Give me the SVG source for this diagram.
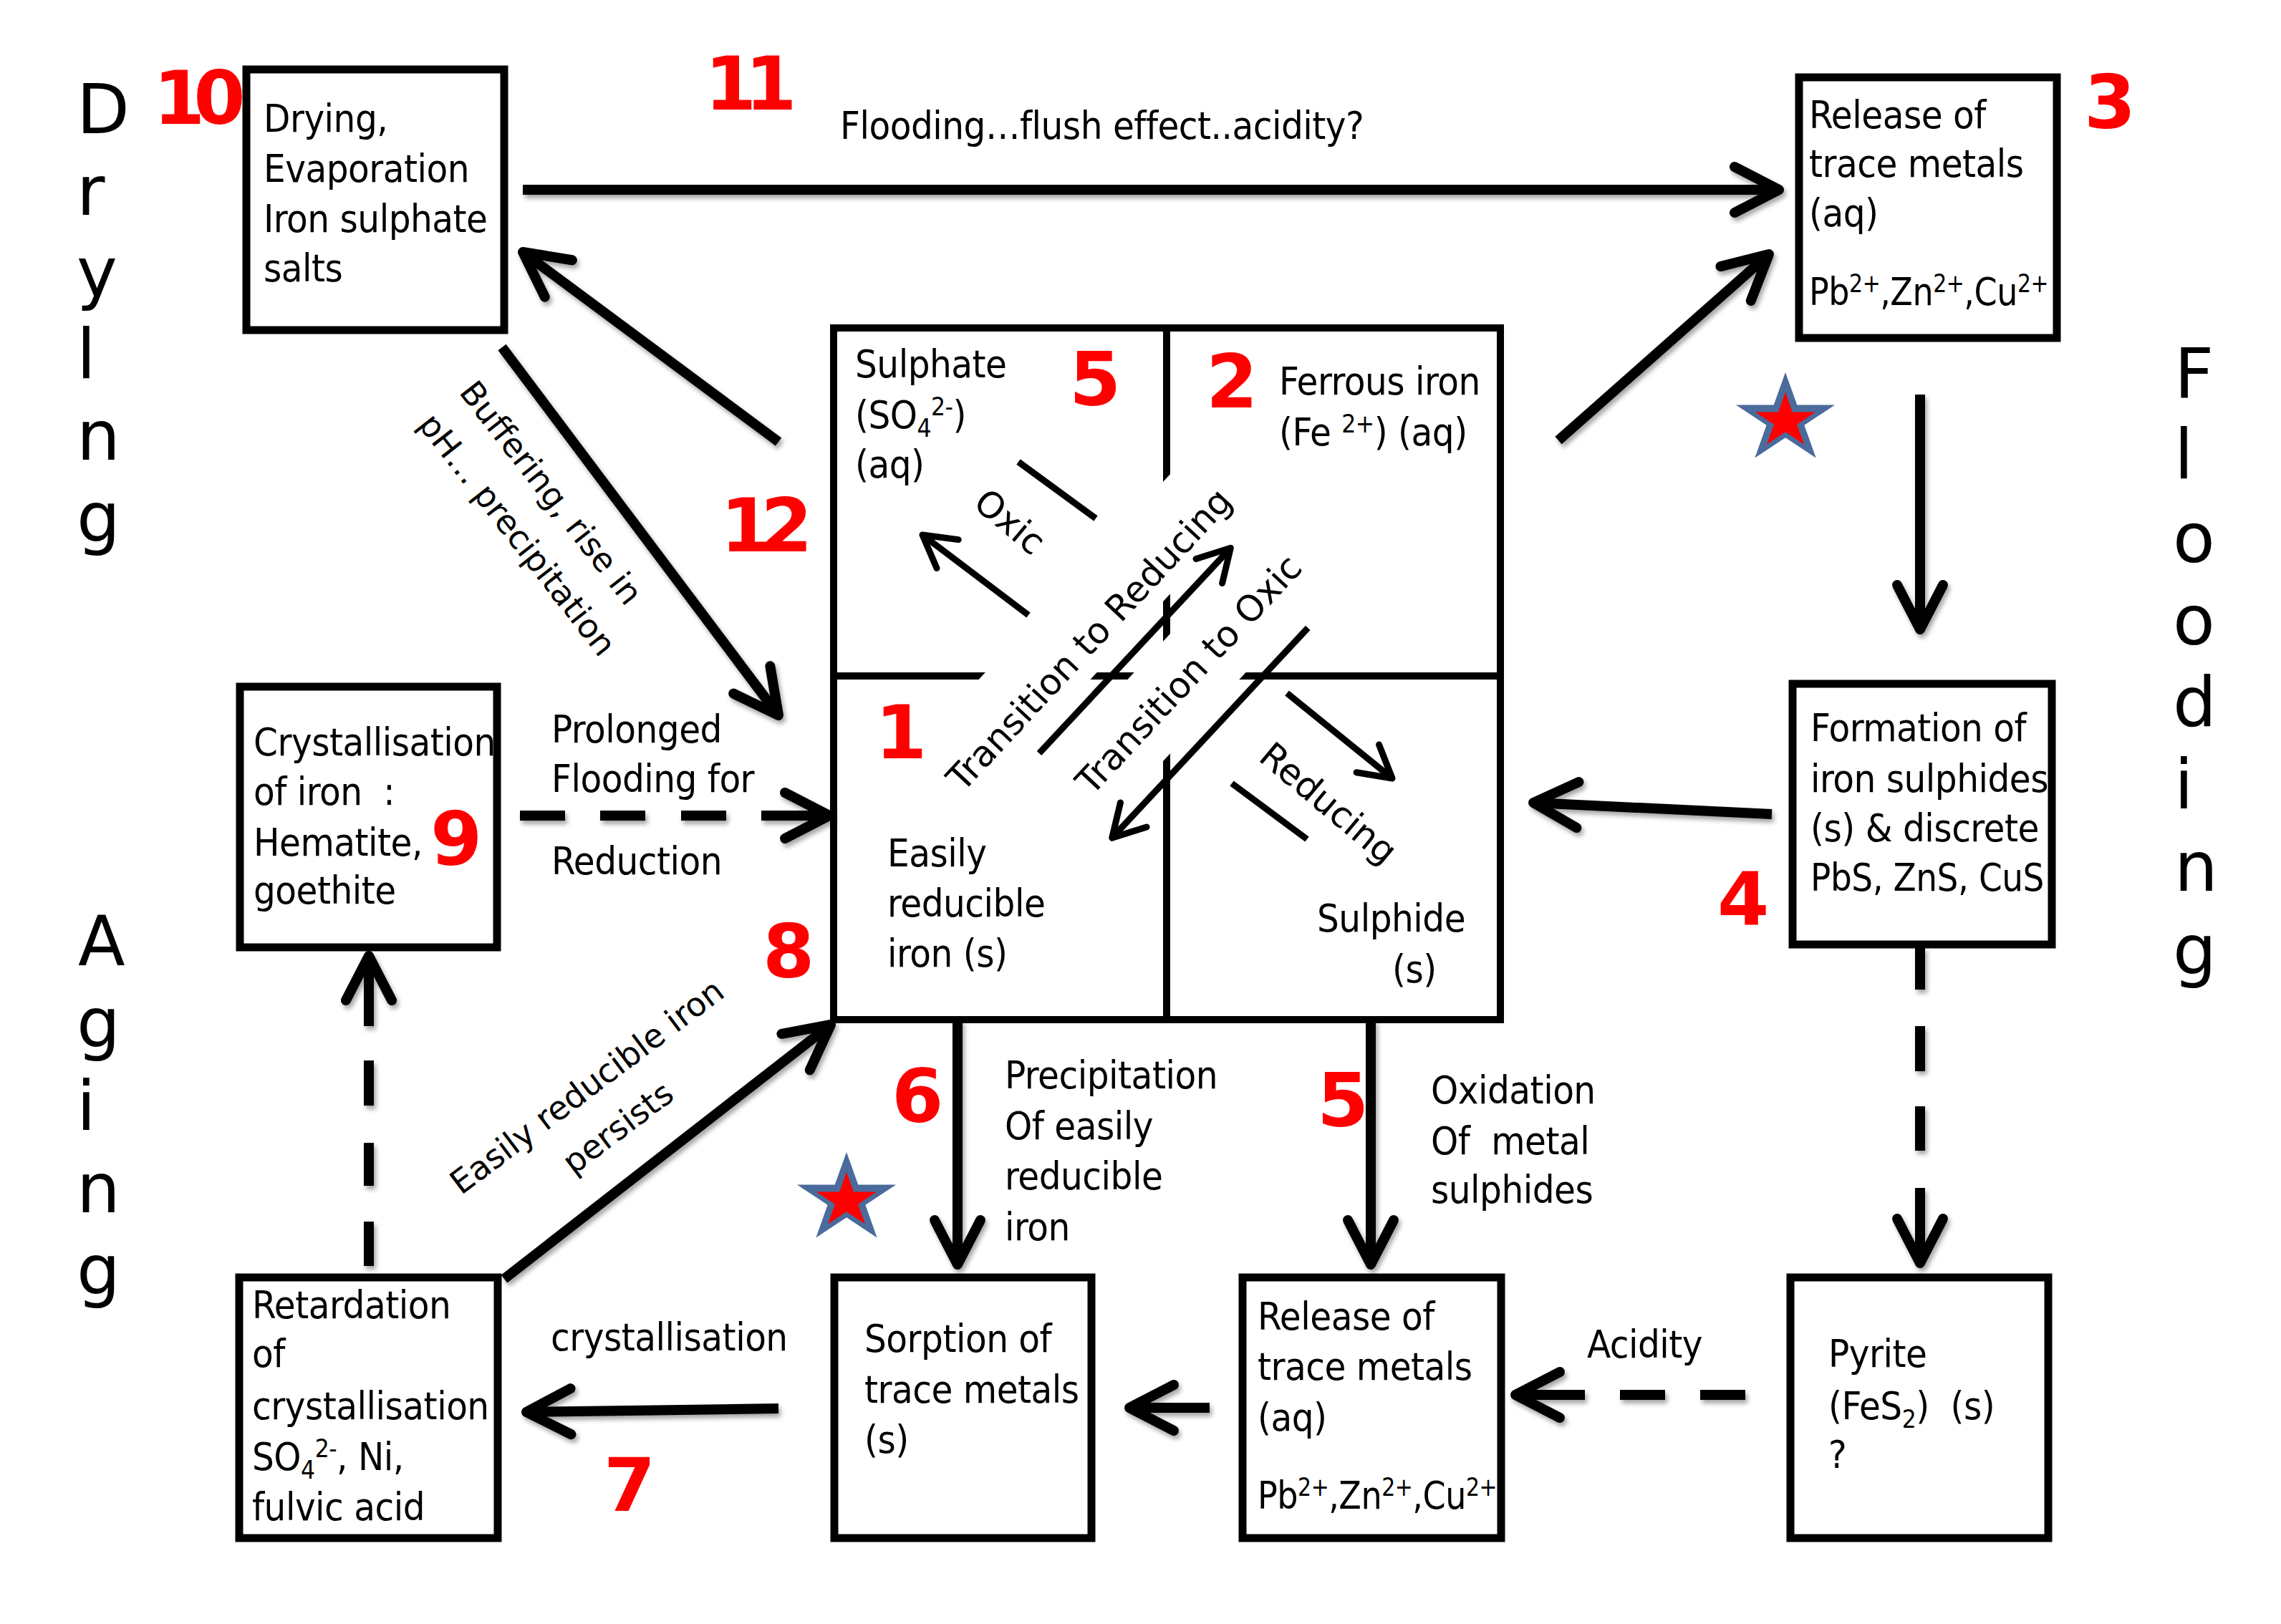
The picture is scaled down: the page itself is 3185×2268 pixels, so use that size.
<svg xmlns="http://www.w3.org/2000/svg" width="3185" height="2268" viewBox="0 0 3185 2268">
<style>
.box{fill:#fff;stroke:#000;stroke-width:11}
.t{font-family:"DejaVu Sans Condensed","DejaVu Sans",sans-serif;font-size:54px;fill:#000;letter-spacing:-0.5px}
.s{font-size:35px}
.r{font-family:"DejaVu Sans",sans-serif;font-size:50px;fill:#000}
.lb{font-family:"DejaVu Sans",sans-serif;font-size:46px;fill:#000}
.num{font-family:"DejaVu Sans","Liberation Sans",sans-serif;font-weight:bold;font-size:104px;fill:#f00}
.big{font-family:"DejaVu Sans",sans-serif;font-size:96px;fill:#000}
.c{fill:none;stroke:#000;stroke-width:14;stroke-linecap:butt;marker-end:url(#ah)}
.ci{fill:none;stroke:#000;stroke-width:9;stroke-linecap:butt}
.arr{marker-end:url(#ahs)}
.div{fill:none;stroke:#000;stroke-width:10}
</style>
<defs>
<marker id="ah" markerUnits="userSpaceOnUse" orient="auto" viewBox="-80 -60 100 120" refX="0" refY="0" markerWidth="100" markerHeight="120">
<path d="M-62,-32 L0,0 L-62,32" fill="none" stroke="#000" stroke-width="14" stroke-linecap="round" stroke-linejoin="round"/>
</marker>
<marker id="ahs" markerUnits="userSpaceOnUse" orient="auto" viewBox="-60 -40 80 80" refX="0" refY="0" markerWidth="80" markerHeight="80">
<path d="M-44,-25 L0,0 L-44,25" fill="none" stroke="#000" stroke-width="9" stroke-linecap="round" stroke-linejoin="round"/>
</marker>
<filter id="sh" filterUnits="userSpaceOnUse" x="0" y="0" width="3185" height="2268">
<feDropShadow dx="3" dy="5" stdDeviation="3" flood-color="#000" flood-opacity="0.35"/>
</filter>
<polygon id="star" points="0,-66 14.8,-20.4 62.8,-20.4 24,7.8 38.8,53.4 0,25.2 -38.8,53.4 -24,7.8 -62.8,-20.4 -14.8,-20.4"/>
</defs>
<rect width="3185" height="2268" fill="#fff"/>

<!-- side labels -->
<g id="side-labels" class="big">
<text x="107" y="186">D</text><text x="107" y="300">r</text><text x="107" y="414">y</text><text x="107" y="528">l</text><text x="107" y="642">n</text><text x="107" y="756">g</text>
<text x="109" y="1348">A</text><text x="107" y="1462">g</text><text x="107" y="1578">i</text><text x="107" y="1693">n</text><text x="107" y="1807">g</text>
<text x="3036" y="556">F</text><text x="3036" y="668">l</text><text x="3034" y="785">o</text><text x="3034" y="900">o</text><text x="3034" y="1014">d</text><text x="3036" y="1129">i</text><text x="3036" y="1244">n</text><text x="3034" y="1360">g</text>
</g>

<!-- central square -->
<g id="center">
<rect x="1164" y="458" width="931" height="966" fill="#fff" stroke="#000" stroke-width="10"/>
<path class="div" d="M1164,944 H2095 M1629,458 V1424"/>
<g transform="translate(1451,1052) rotate(-47)">
<rect x="-135" y="-132" width="595" height="114" fill="#fff"/>
<rect x="-10" y="20" width="470" height="114" fill="#fff"/>
<path class="ci arr" d="M0,0 L392,0"/>
<path class="ci arr" d="M384,155 L-17,155"/>
<text class="r" x="164" y="-40" text-anchor="middle">Transition to Reducing</text>
<text class="r" x="223" y="95" text-anchor="middle">Transition to Oxic</text>
</g>
<path class="ci arr" d="M1436,859 L1288,747"/>
<path class="ci" d="M1422,645 L1530,724"/>
<text class="r" transform="translate(1399,742) rotate(40)" text-anchor="middle">Oxic</text>
<path class="ci arr" d="M1797,968 L1944,1087"/>
<path class="ci" d="M1720,1094 L1825,1172"/>
<text class="r" transform="translate(1844,1135) rotate(40)" text-anchor="middle">Reducing</text>
<text class="t" x="1194" y="527">Sulphate</text>
<text class="t" x="1194" y="598">(SO<tspan class="s" dy="12">4</tspan><tspan class="s" dy="-30">2-</tspan><tspan dy="18">)</tspan></text>
<text class="t" x="1194" y="667">(aq)</text>
<text class="t" x="1786" y="551">Ferrous iron</text>
<text class="t" x="1786" y="622">(Fe <tspan class="s" dy="-18">2+</tspan><tspan dy="18">) (aq)</tspan></text>
<text class="t" x="1239" y="1210">Easily</text>
<text class="t" x="1239" y="1280">reducible</text>
<text class="t" x="1239" y="1350">iron (s)</text>
<text class="t" x="1839" y="1301">Sulphide</text>
<text class="t" x="1944" y="1372">(s)</text>
</g>

<g id="n10">
<rect class="box" x="344" y="97" width="360" height="364"/>
<text class="t" x="368" y="184">Drying,</text>
<text class="t" x="368" y="254">Evaporation</text>
<text class="t" x="368" y="324">Iron sulphate</text>
<text class="t" x="368" y="393">salts</text>
</g>
<g id="n3">
<rect class="box" x="2512" y="108" width="360" height="364"/>
<text class="t" x="2526" y="179">Release of</text>
<text class="t" x="2526" y="247">trace metals</text>
<text class="t" x="2526" y="316">(aq)</text>
<text class="t" x="2526" y="426" textLength="334" lengthAdjust="spacingAndGlyphs">Pb<tspan class="s" dy="-18">2+</tspan><tspan dy="18">,Zn</tspan><tspan class="s" dy="-18">2+</tspan><tspan dy="18">,Cu</tspan><tspan class="s" dy="-18">2+</tspan></text>
</g>
<g id="n9">
<rect class="box" x="335" y="959" width="359" height="364"/>
<text class="t" x="354" y="1055">Crystallisation</text>
<text class="t" x="354" y="1124">of iron&#160;&#160;:</text>
<text class="t" x="354" y="1195">Hematite,</text>
<text class="t" x="354" y="1262">goethite</text>
</g>
<g id="n4">
<rect class="box" x="2503" y="955" width="362" height="364"/>
<text class="t" x="2528" y="1035">Formation of</text>
<text class="t" x="2528" y="1106">iron sulphides</text>
<text class="t" x="2528" y="1175">(s) &amp; discrete</text>
<text class="t" x="2528" y="1244" textLength="326" lengthAdjust="spacingAndGlyphs">PbS, ZnS, CuS</text>
</g>
<g id="n7">
<rect class="box" x="334" y="1784" width="361" height="364"/>
<text class="t" x="352" y="1841">Retardation</text>
<text class="t" x="352" y="1909">of</text>
<text class="t" x="352" y="1982">crystallisation</text>
<text class="t" x="352" y="2053">SO<tspan class="s" dy="12">4</tspan><tspan class="s" dy="-30">2-</tspan><tspan dy="18">, Ni,</tspan></text>
<text class="t" x="352" y="2123">fulvic acid</text>
</g>
<g id="n-sorption">
<rect class="box" x="1165" y="1784" width="359" height="364"/>
<text class="t" x="1207" y="1888">Sorption of</text>
<text class="t" x="1207" y="1959">trace metals</text>
<text class="t" x="1207" y="2029">(s)</text>
</g>
<g id="n-release">
<rect class="box" x="1735" y="1784" width="361" height="364"/>
<text class="t" x="1756" y="1857">Release of</text>
<text class="t" x="1756" y="1927">trace metals</text>
<text class="t" x="1756" y="1998">(aq)</text>
<text class="t" x="1756" y="2107" textLength="334" lengthAdjust="spacingAndGlyphs">Pb<tspan class="s" dy="-18">2+</tspan><tspan dy="18">,Zn</tspan><tspan class="s" dy="-18">2+</tspan><tspan dy="18">,Cu</tspan><tspan class="s" dy="-18">2+</tspan></text>
</g>
<g id="n-pyrite">
<rect class="box" x="2500" y="1784" width="360" height="364"/>
<text class="t" x="2553" y="1909">Pyrite</text>
<text class="t" x="2553" y="1982">(FeS<tspan class="s" dy="12">2</tspan><tspan dy="-12">)&#160;&#160;(s)</tspan></text>
<text class="t" x="2553" y="2050">?</text>
</g>

<!-- connectors -->
<g id="connectors" filter="url(#sh)">
<path class="c" d="M730,265 H2484"/>
<path class="c" d="M1087,617 L730,352"/>
<path class="c" d="M701,485 L1087,999"/>
<path class="c" d="M2176,615 L2470,355"/>
<path class="c" d="M2681,551 V879"/>
<path class="c" d="M2474,1137 L2141,1121"/>
<path class="c" d="M1337,1424 V1766"/>
<path class="c" d="M1914,1424 V1766"/>
<path class="c" d="M1689,1966 H1577"/>
<path class="c" d="M1087,1967 L735,1972"/>
<path class="c" d="M704,1786 L1160,1431"/>
<path class="c" d="M726,1139 H789 M838,1139 H901 M951,1139 H1014 M1063,1139 H1158"/>
<path class="c" d="M515,1768 V1706 M515,1656 V1596 M515,1544 V1481 M515,1433 V1335"/>
<path class="c" d="M2681,1323 V1382 M2681,1433 V1496 M2681,1545 V1607 M2681,1659 V1764"/>
<path class="c" d="M2437,1948 H2374 M2325,1948 H2262 M2213,1948 H2116"/>
</g>

<!-- connector labels -->
<g id="labels">
<text class="t" x="1173" y="194">Flooding…flush effect..acidity?</text>
<text class="lb" transform="translate(757,698) rotate(52)" text-anchor="middle"><tspan x="0" y="0">Buffering, rise in</tspan><tspan x="17" y="73">pH… precipitation</tspan></text>
<text class="lb" transform="translate(829,1530) rotate(-37)" text-anchor="middle"><tspan x="0" y="0">Easily reducible iron</tspan><tspan x="0" y="72">persists</tspan></text>
<text class="t" x="770" y="1037">Prolonged</text>
<text class="t" x="770" y="1106">Flooding for</text>
<text class="t" x="770" y="1221">Reduction</text>
<text class="t" x="769" y="1886">crystallisation</text>
<text class="t" x="1403" y="1520">Precipitation</text>
<text class="t" x="1403" y="1591">Of easily</text>
<text class="t" x="1403" y="1661">reducible</text>
<text class="t" x="1403" y="1732">iron</text>
<text class="t" x="1998" y="1541">Oxidation</text>
<text class="t" x="1998" y="1612">Of&#160;&#160;metal</text>
<text class="t" x="1998" y="1680">sulphides</text>
<text class="t" x="2216" y="1896">Acidity</text>
</g>

<!-- step numbers -->
<g id="numbers" class="num">
<text x="214" y="173" letter-spacing="-16">10</text>
<text x="984" y="153" letter-spacing="-16">11</text>
<text x="1006" y="770" letter-spacing="-16">12</text>
<text x="2910" y="179">3</text>
<text x="1493" y="566">5</text>
<text x="1684" y="569">2</text>
<text x="1222" y="1059">1</text>
<text x="1065" y="1365">8</text>
<text x="601" y="1208">9</text>
<text x="2398" y="1292">4</text>
<text x="1245" y="1567">6</text>
<text x="1839" y="1573">5</text>
<text x="843" y="2110">7</text>
</g>

<!-- stars -->
<g id="stars">
<use href="#star" transform="translate(2493,586) scale(1.1,1)" fill="#4a6b9b"/>
<use href="#star" transform="translate(2493,588) scale(0.67,0.61)" fill="#ff0000"/>
<use href="#star" transform="translate(1182,1675) scale(1.1,1)" fill="#4a6b9b"/>
<use href="#star" transform="translate(1182,1677) scale(0.67,0.61)" fill="#ff0000"/>
</g>
</svg>
